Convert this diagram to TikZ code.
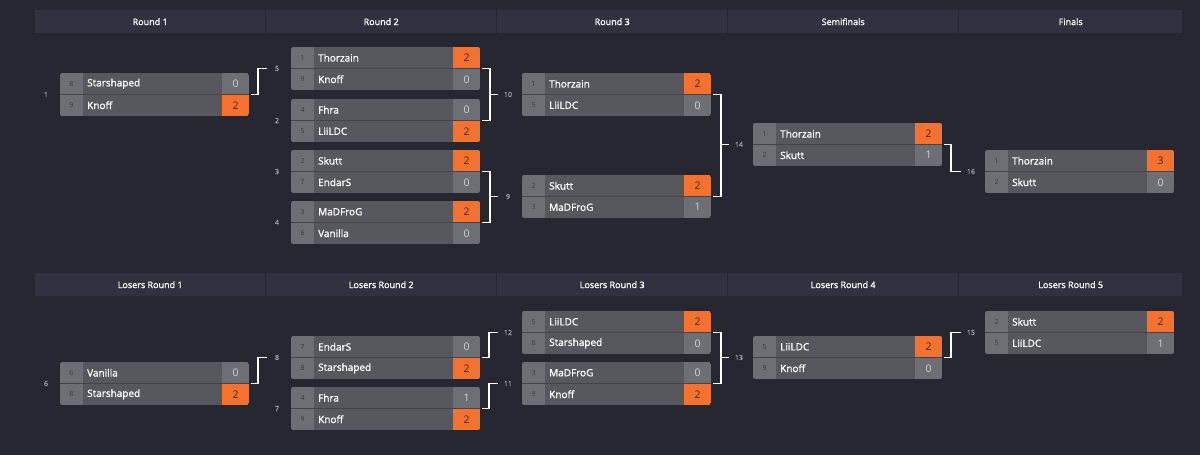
\documentclass[tikz,border=0pt]{standalone}
\usepackage{fontspec}
\setmainfont{Open Sans}
\newfontfamily\semib{Open Sans}[FakeBold=1.2]
\usetikzlibrary{calc}
\definecolor{bg}{HTML}{262731}
\definecolor{hdr}{HTML}{30333F}
\definecolor{namec}{HTML}{57585E}
\definecolor{seedc}{HTML}{6E6F75}
\definecolor{winc}{HTML}{F5722E}
\definecolor{divc}{HTML}{44454B}
\definecolor{seedtxt}{HTML}{3A3B41}
\definecolor{lblc}{HTML}{A2A3A8}
\definecolor{scoretxt}{HTML}{D2D2D6}
\definecolor{wintxt}{HTML}{3A2A22}
\tikzset{
  matchbox/.style={anchor=north west, minimum width=189pt, minimum height=43pt, inner sep=0pt, outer sep=0pt},
  conn/.style={draw=white, line width=1.6pt},
  hdrbox/.style={fill=hdr, minimum height=23pt, inner sep=0pt, anchor=north west, font=\semib\fontsize{9}{10}\selectfont, text=white},
  seedtext/.style={font=\fontsize{7}{8}\selectfont, text=seedtxt, inner sep=0pt},
  nametext/.style={font=\semib\fontsize{10}{11}\selectfont, text=white, inner sep=0pt, anchor=west},
  scoretext/.style={font=\fontsize{10.5}{11}\selectfont, inner sep=0pt},
  lbltext/.style={font=\semib\fontsize{7}{8}\selectfont, text=lblc, inner sep=0pt}
}
\newcommand\mkmatch[4]{% id, x, y, winning row
  \node[matchbox] (#1) at (#2,#3) {};
  \begin{scope}
    \clip[rounded corners=2.5pt] (#1.north west) rectangle (#1.south east);
    \fill[namec] (#1.north west) rectangle (#1.south east);
    \fill[seedc] (#1.north west) rectangle ([xshift=23pt]#1.south west);
    \fill[seedc] ([xshift=-27pt]#1.north east) rectangle (#1.south east);
    \ifnum#4=1
      \fill[winc] ([xshift=-27pt]#1.north east) rectangle ([yshift=-21.5pt]#1.north east);
    \else
      \fill[winc] ([xshift=-27pt,yshift=-21.5pt]#1.north east) rectangle (#1.south east);
    \fi
  \end{scope}
  \draw[divc, line width=1pt] ([yshift=-21.5pt]#1.north west) -- ([yshift=-21.5pt]#1.north east);
}
\newcommand\mkplayer[6]{% id, row, seed, name, score, win
  \pgfmathsetmacro\ry{-10.75-21.5*(#2-1)}
  \ifnum#6=1 \def\sc{wintxt}\else\def\sc{scoretxt}\fi
  \node[seedtext] (#1-s#2) at ([xshift=11.5pt,yshift=\ry pt]#1.north west) {#3};
  \node[nametext] (#1-n#2) at ([xshift=27pt,yshift=\ry pt]#1.north west) {#4};
  \node[scoretext, text=\sc] (#1-c#2) at ([xshift=-13.5pt,yshift=\ry pt]#1.north east) {#5};
}
\begin{document}
\begin{tikzpicture}[x=1pt,y=-1pt]
\fill[bg] (0,0) rectangle (1200,455);
\useasboundingbox (0,0) rectangle (1200,455);
% headers
\node[hdrbox, minimum width=230pt] (h1) at (35,10) {Round 1};
\node[hdrbox, minimum width=230pt] (h2) at (266,10) {Round 2};
\node[hdrbox, minimum width=230pt] (h3) at (497,10) {Round 3};
\node[hdrbox, minimum width=230pt] (h4) at (728,10) {Semifinals};
\node[hdrbox, minimum width=223pt] (h5) at (959,10) {Finals};
\node[hdrbox, minimum width=230pt] (g1) at (35,273) {Losers Round 1};
\node[hdrbox, minimum width=230pt] (g2) at (266,273) {Losers Round 2};
\node[hdrbox, minimum width=230pt] (g3) at (497,273) {Losers Round 3};
\node[hdrbox, minimum width=230pt] (g4) at (728,273) {Losers Round 4};
\node[hdrbox, minimum width=223pt] (g5) at (959,273) {Losers Round 5};
% winners bracket
\mkmatch{m1}{60}{73}{2}
\mkplayer{m1}{1}{8}{Starshaped}{0}{0}
\mkplayer{m1}{2}{9}{Knoff}{2}{1}
\mkmatch{m5}{291}{47}{1}
\mkplayer{m5}{1}{1}{Thorzain}{2}{1}
\mkplayer{m5}{2}{9}{Knoff}{0}{0}
\mkmatch{m2}{291}{99}{2}
\mkplayer{m2}{1}{4}{Fhra}{0}{0}
\mkplayer{m2}{2}{5}{LiiLDC}{2}{1}
\mkmatch{m3}{291}{150}{1}
\mkplayer{m3}{1}{2}{Skutt}{2}{1}
\mkplayer{m3}{2}{7}{EndarS}{0}{0}
\mkmatch{m4}{291}{201}{1}
\mkplayer{m4}{1}{3}{MaDFroG}{2}{1}
\mkplayer{m4}{2}{6}{Vanilla}{0}{0}
\mkmatch{m10}{522}{73}{1}
\mkplayer{m10}{1}{1}{Thorzain}{2}{1}
\mkplayer{m10}{2}{5}{LiiLDC}{0}{0}
\mkmatch{m9}{522}{175}{1}
\mkplayer{m9}{1}{2}{Skutt}{2}{1}
\mkplayer{m9}{2}{3}{MaDFroG}{1}{0}
\mkmatch{m14}{753}{123}{1}
\mkplayer{m14}{1}{1}{Thorzain}{2}{1}
\mkplayer{m14}{2}{2}{Skutt}{1}{0}
\mkmatch{m16}{985}{150}{1}
\mkplayer{m16}{1}{1}{Thorzain}{3}{1}
\mkplayer{m16}{2}{2}{Skutt}{0}{0}
% losers bracket
\mkmatch{m6}{60}{362}{2}
\mkplayer{m6}{1}{6}{Vanilla}{0}{0}
\mkplayer{m6}{2}{8}{Starshaped}{2}{1}
\mkmatch{m8}{291}{336}{2}
\mkplayer{m8}{1}{7}{EndarS}{0}{0}
\mkplayer{m8}{2}{8}{Starshaped}{2}{1}
\mkmatch{m7}{291}{387}{2}
\mkplayer{m7}{1}{4}{Fhra}{1}{0}
\mkplayer{m7}{2}{9}{Knoff}{2}{1}
\mkmatch{m12}{522}{311}{1}
\mkplayer{m12}{1}{5}{LiiLDC}{2}{1}
\mkplayer{m12}{2}{8}{Starshaped}{0}{0}
\mkmatch{m11}{522}{362}{2}
\mkplayer{m11}{1}{3}{MaDFroG}{0}{0}
\mkplayer{m11}{2}{9}{Knoff}{2}{1}
\mkmatch{m13}{753}{336}{1}
\mkplayer{m13}{1}{5}{LiiLDC}{2}{1}
\mkplayer{m13}{2}{9}{Knoff}{0}{0}
\mkmatch{m15}{985}{311}{1}
\mkplayer{m15}{1}{2}{Skutt}{2}{1}
\mkplayer{m15}{2}{5}{LiiLDC}{1}{0}
% match labels
\foreach \m/\t in {m1/1,m5/5,m2/2,m3/3,m4/4,m10/10,m9/9,m14/14,m16/16,m6/6,m8/8,m7/7,m12/12,m11/11,m13/13,m15/15}
  \node[lbltext] (l\t) at ([xshift=-14pt]\m.west) {\t};
% connectors: single feeds
\draw[conn] ([xshift=2pt]m1.east) -- ++(7,0) |- ([xshift=-24pt]m5.west);
\draw[conn] ([xshift=2pt]m14.east) -- ++(7,0) |- ([xshift=-24pt]m16.west);
\draw[conn] ([xshift=2pt]m6.east) -- ++(7,0) |- ([xshift=-24pt]m8.west);
\draw[conn] ([xshift=2pt]m8.east) -- ++(7,0) |- ([xshift=-24pt]m12.west);
\draw[conn] ([xshift=2pt]m7.east) -- ++(7,0) |- ([xshift=-24pt]m11.west);
\draw[conn] ([xshift=2pt]m13.east) -- ++(7,0) |- ([xshift=-24pt]m15.west);
% connectors: brackets
\draw[conn] ([xshift=2pt]m5.east) -- ++(8,0) |- ([xshift=2pt]m2.east);
\draw[conn] ([xshift=-32pt]m10.west) -- ([xshift=-24pt]m10.west);
\draw[conn] ([xshift=2pt]m3.east) -- ++(8,0) |- ([xshift=2pt]m4.east);
\draw[conn] ([xshift=-32pt]m9.west) -- ([xshift=-24pt]m9.west);
\draw[conn] ([xshift=2pt]m10.east) -- ++(8,0) |- ([xshift=2pt]m9.east);
\draw[conn] ([xshift=-31pt]m14.west) -- ([xshift=-24pt]m14.west);
\draw[conn] ([xshift=2pt]m12.east) -- ++(8,0) |- ([xshift=2pt]m11.east);
\draw[conn] ([xshift=-31pt]m13.west) -- ([xshift=-24pt]m13.west);
\end{tikzpicture}
\end{document}
